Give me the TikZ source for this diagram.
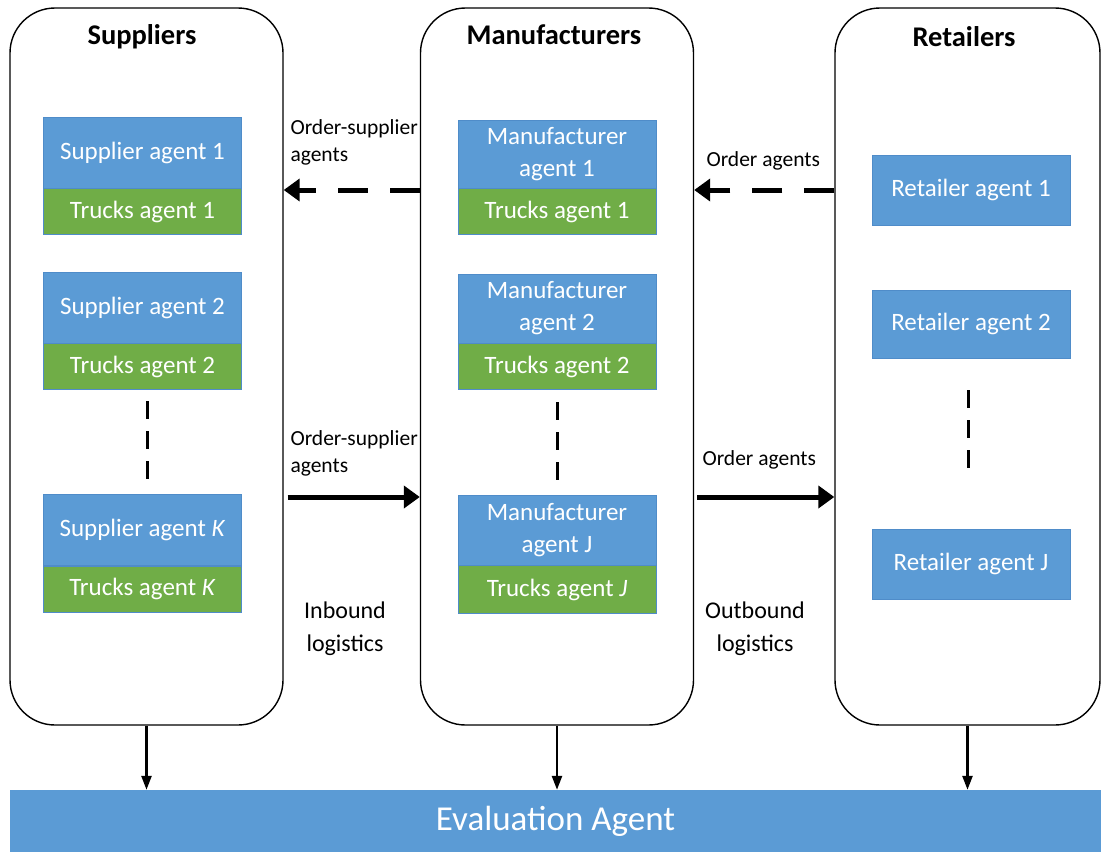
\documentclass[tikz,border=0pt]{standalone}
\usepackage{fontspec}
\setmainfont{Carlito}
\usetikzlibrary{arrows.meta, positioning}

\definecolor{agentblue}{HTML}{5B9BD5}
\definecolor{agentgreen}{HTML}{70AD47}
\definecolor{agentedge}{HTML}{4F8CC9}

\tikzset{
  group/.style={draw=black, line width=1.4pt, rounded corners=45pt, fill=white,
    minimum width=273pt, minimum height=717pt, inner sep=0pt},
  grouptitle/.style={font=\fontsize{28.5}{32}\selectfont\bfseries, anchor=center},
  agentbox/.style={draw=agentedge, line width=0.6pt, fill=agentblue, text=white,
    minimum width=198pt, inner sep=0pt, align=center,
    font=\fontsize{25}{32}\selectfont},
  truckbox/.style={agentbox, fill=agentgreen, draw=agentedge, minimum height=46pt},
  flowlabel/.style={font=\fontsize{21.5}{27}\selectfont, align=left, anchor=west},
  logilabel/.style={font=\fontsize{24}{33}\selectfont, align=center},
  dots/.style={line width=3pt, dash pattern=on 18pt off 12pt},
  backflow/.style={line width=5pt, dash pattern=on 30pt off 22pt,
    -{Triangle[length=16pt, width=22pt]}},
  flow/.style={line width=5pt, -{Triangle[length=16pt, width=22pt]}},
  report/.style={line width=2.5pt, -{Triangle[length=14pt, width=10pt]}}
}

\begin{document}
\begin{tikzpicture}[x=1pt, y=-1pt]
  \useasboundingbox (0,0) rectangle (1101,852);

  % the three groups
  \node[group] (sup) at (146.5,366.5) {};
  \node[group] (man) at (557,366.5) {};
  \node[group, minimum width=265pt] (ret) at (967.5,366.5) {};
  \node[grouptitle] (suptitle) at (142,37) {Suppliers};
  \node[grouptitle] (mantitle) at (554,35) {Manufacturers};
  \node[grouptitle] (rettitle) at (964,37) {Retailers};

  % suppliers
  \node[agentbox, minimum height=71pt] (sa1) at (142.5,152.5) {Supplier agent 1};
  \node[truckbox, below=0pt of sa1] (st1) {Trucks agent 1};
  \node[agentbox, minimum height=71pt] (sa2) at (142.5,307.5) {Supplier agent 2};
  \node[truckbox, below=0pt of sa2] (st2) {Trucks agent 2};
  \node[agentbox, minimum height=71pt] (sak) at (142.5,530) {Supplier agent \textit{K}};
  \node[truckbox, below=0pt of sak] (stk) {Trucks agent \textit{K}};
  \draw[dots] (147,401) -- (147,482);

  % manufacturers
  \node[agentbox, minimum height=68pt] (ma1) at (557,154) {Manufacturer\\agent 1};
  \node[truckbox, below=0pt of ma1] (mt1) {Trucks agent 1};
  \node[agentbox, minimum height=69pt] (ma2) at (557,308.5) {Manufacturer\\agent 2};
  \node[truckbox, below=0pt of ma2] (mt2) {Trucks agent 2};
  \node[agentbox, minimum height=70pt] (maj) at (557,530) {Manufacturer\\agent J};
  \node[truckbox, minimum height=48pt, below=0pt of maj] (mtj) {Trucks agent \textit{J}};
  \draw[dots] (557,402) -- (557,482);

  % retailers
  \node[agentbox, minimum height=70pt] (ra1) at (971,190) {Retailer agent 1};
  \node[agentbox, minimum height=68pt] (ra2) at (971,324) {Retailer agent 2};
  \node[agentbox, minimum height=70pt] (raj) at (971,564) {Retailer agent J};
  \draw[dots] (968,390) -- (968,471);

  % orders going back upstream
  \coordinate (upper) at (0,190);
  \coordinate (lower) at (0,497);
  \draw[backflow] (man.west |- upper) -- (sup.east |- upper);
  \draw[backflow] (ret.west |- upper) -- (man.east |- upper);
  \node[flowlabel] (osup1) at (287,142) {Order-supplier\\agents};
  \node[flowlabel] (oret1) at (703,161) {Order agents};

  % goods going downstream
  \draw[flow] ([xshift=4pt]sup.east |- lower) -- (man.west |- lower);
  \draw[flow] ([xshift=3pt]man.east |- lower) -- (ret.west |- lower);
  \node[flowlabel] (osup2) at (287,453) {Order-supplier\\agents};
  \node[flowlabel] (oret2) at (699,460) {Order agents};
  \node[logilabel] (inb) at (345,629) {Inbound\\logistics};
  \node[logilabel] (outb) at (755,629) {Outbound\\logistics};

  % evaluation
  \node[fill=agentblue, text=white, minimum width=1091pt, minimum height=62pt,
    inner sep=0pt, font=\fontsize{35}{40}\selectfont] (eval) at (555.5,821) {Evaluation Agent};
  \foreach \g in {sup, man, ret}
    \draw[report] (\g.south) -- (\g.south |- eval.north);
\end{tikzpicture}
\end{document}
